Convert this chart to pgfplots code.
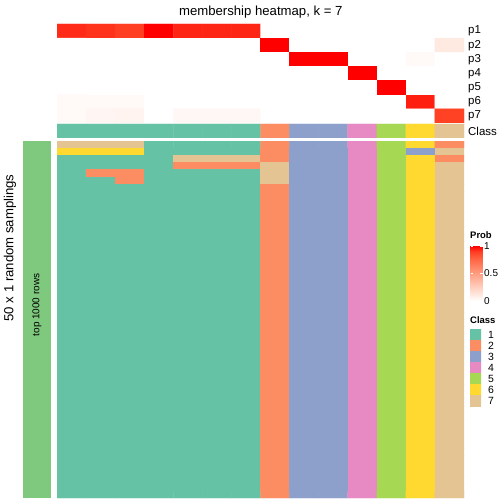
\documentclass[border=0pt]{standalone}
\usepackage{pgfplots}
\pgfplotsset{compat=1.18}
\usepackage{fontspec}
\setmainfont{Liberation Sans}
\definecolor{leftgreen}{HTML}{7FC97F}
\pgfplotsset{
  classmap/.style={colormap={classes}{rgb255=(102,194,165) rgb255=(252,141,98) rgb255=(141,160,203) rgb255=(231,138,195) rgb255=(166,216,84) rgb255=(255,217,47) rgb255=(229,196,148)}, colormap access=direct},
  probmap/.style={colormap={whitered}{rgb255(0cm)=(255,255,255) rgb255(1cm)=(255,236,229) rgb255(2.5cm)=(255,207,191) rgb255(5cm)=(255,158,129) rgb255(7.5cm)=(255,104,70) rgb255(9cm)=(255,62,34) rgb255(10cm)=(255,0,0)}},
  hm/.style={scale only axis, anchor=south west, enlargelimits=false,
    axis line style={draw=none}, tick style={draw=none}, major tick length=0pt,
    xtick=\empty, y dir=reverse, yticklabel pos=right,
    yticklabel style={font=\fontsize{11.5}{12}\selectfont, inner sep=0pt, xshift=4bp}},
}
\begin{document}
\begin{tikzpicture}
\path[use as bounding box] (0,0) rectangle (504bp,504bp);
% membership probabilities
\begin{axis}[hm, at={(57bp,381bp)}, width=407bp, height=99bp,
  xmin=0.5, xmax=14.5, ymin=0.5, ymax=7.5,
  ytick={1,...,7}, yticklabels={p1,p2,p3,p4,p5,p6,p7},
  probmap, point meta min=0, point meta max=1,
  colorbar,
  colorbar style={at={(parent axis.south east)}, anchor=north west,
    xshift=-2bp, yshift=-123bp, scale only axis, width=12bp, height=55bp,
    ytick={0,0.5,1}, yticklabels={0,0.5,1}, yticklabel pos=right,
    ytick pos=both, tick align=inside, major tick length=2.5bp,
    ytick style={draw=white, line width=0.8bp},
    axis line style={draw=none},
    yticklabel style={font=\fontsize{10}{10}\selectfont, inner sep=0pt, xshift=1.5bp}}]
\addplot[matrix plot*, mesh/cols=14, point meta=explicit] coordinates {
(1,1)[0.93] (2,1)[0.92] (3,1)[0.90] (4,1)[1] (5,1)[0.94] (6,1)[0.94] (7,1)[0.94] (8,1)[0] (9,1)[0] (10,1)[0] (11,1)[0] (12,1)[0] (13,1)[0] (14,1)[0]
(1,2)[0] (2,2)[0] (3,2)[0] (4,2)[0] (5,2)[0] (6,2)[0] (7,2)[0] (8,2)[1] (9,2)[0] (10,2)[0] (11,2)[0] (12,2)[0] (13,2)[0] (14,2)[0.11]
(1,3)[0] (2,3)[0] (3,3)[0] (4,3)[0] (5,3)[0] (6,3)[0] (7,3)[0] (8,3)[0] (9,3)[1] (10,3)[1] (11,3)[0] (12,3)[0] (13,3)[0.03] (14,3)[0]
(1,4)[0] (2,4)[0] (3,4)[0] (4,4)[0] (5,4)[0] (6,4)[0] (7,4)[0] (8,4)[0] (9,4)[0] (10,4)[0] (11,4)[1] (12,4)[0] (13,4)[0] (14,4)[0]
(1,5)[0] (2,5)[0] (3,5)[0] (4,5)[0] (5,5)[0] (6,5)[0] (7,5)[0] (8,5)[0] (9,5)[0] (10,5)[0] (11,5)[0] (12,5)[1] (13,5)[0] (14,5)[0]
(1,6)[0.03] (2,6)[0.03] (3,6)[0.03] (4,6)[0] (5,6)[0] (6,6)[0] (7,6)[0] (8,6)[0] (9,6)[0] (10,6)[0] (11,6)[0] (12,6)[0] (13,6)[0.95] (14,6)[0]
(1,7)[0.03] (2,7)[0.05] (3,7)[0.06] (4,7)[0] (5,7)[0.04] (6,7)[0.04] (7,7)[0.04] (8,7)[0] (9,7)[0] (10,7)[0] (11,7)[0] (12,7)[0] (13,7)[0] (14,7)[0.89]
};
\end{axis}
% class annotation row
\begin{axis}[hm, at={(57bp,366bp)}, width=407bp, height=14bp,
  xmin=0.5, xmax=14.5, ymin=0.5, ymax=2.5,
  ytick={1.5}, yticklabels={Class}, classmap]
\addplot[matrix plot*, mesh/cols=14, point meta=explicit] coordinates {
(1,1)[0] (2,1)[0] (3,1)[0] (4,1)[0] (5,1)[0] (6,1)[0] (7,1)[0] (8,1)[1] (9,1)[2] (10,1)[2] (11,1)[3] (12,1)[4] (13,1)[5] (14,1)[6]
(1,2)[0] (2,2)[0] (3,2)[0] (4,2)[0] (5,2)[0] (6,2)[0] (7,2)[0] (8,2)[1] (9,2)[2] (10,2)[2] (11,2)[3] (12,2)[4] (13,2)[5] (14,2)[6]
};
\end{axis}
% random samplings
\begin{axis}[hm, at={(57bp,6bp)}, width=407bp, height=357bp,
  xmin=0.5, xmax=14.5, ymin=0.5, ymax=50.5, ytick=\empty, classmap]
\addplot[matrix plot*, mesh/cols=14, point meta=explicit] coordinates {
(1,1)[6] (2,1)[6] (3,1)[6] (4,1)[0] (5,1)[0] (6,1)[0] (7,1)[0] (8,1)[1] (9,1)[2] (10,1)[2] (11,1)[3] (12,1)[4] (13,1)[5] (14,1)[1]
(1,2)[5] (2,2)[5] (3,2)[5] (4,2)[0] (5,2)[0] (6,2)[0] (7,2)[0] (8,2)[1] (9,2)[2] (10,2)[2] (11,2)[3] (12,2)[4] (13,2)[2] (14,2)[6]
(1,3)[0] (2,3)[0] (3,3)[0] (4,3)[0] (5,3)[6] (6,3)[6] (7,3)[6] (8,3)[1] (9,3)[2] (10,3)[2] (11,3)[3] (12,3)[4] (13,3)[5] (14,3)[1]
(1,4)[0] (2,4)[0] (3,4)[0] (4,4)[0] (5,4)[1] (6,4)[1] (7,4)[1] (8,4)[6] (9,4)[2] (10,4)[2] (11,4)[3] (12,4)[4] (13,4)[5] (14,4)[6]
(1,5)[0] (2,5)[1] (3,5)[1] (4,5)[0] (5,5)[0] (6,5)[0] (7,5)[0] (8,5)[6] (9,5)[2] (10,5)[2] (11,5)[3] (12,5)[4] (13,5)[5] (14,5)[6]
(1,6)[0] (2,6)[0] (3,6)[1] (4,6)[0] (5,6)[0] (6,6)[0] (7,6)[0] (8,6)[6] (9,6)[2] (10,6)[2] (11,6)[3] (12,6)[4] (13,6)[5] (14,6)[6]
(1,7)[0] (2,7)[0] (3,7)[0] (4,7)[0] (5,7)[0] (6,7)[0] (7,7)[0] (8,7)[1] (9,7)[2] (10,7)[2] (11,7)[3] (12,7)[4] (13,7)[5] (14,7)[6]
(1,8)[0] (2,8)[0] (3,8)[0] (4,8)[0] (5,8)[0] (6,8)[0] (7,8)[0] (8,8)[1] (9,8)[2] (10,8)[2] (11,8)[3] (12,8)[4] (13,8)[5] (14,8)[6]
(1,9)[0] (2,9)[0] (3,9)[0] (4,9)[0] (5,9)[0] (6,9)[0] (7,9)[0] (8,9)[1] (9,9)[2] (10,9)[2] (11,9)[3] (12,9)[4] (13,9)[5] (14,9)[6]
(1,10)[0] (2,10)[0] (3,10)[0] (4,10)[0] (5,10)[0] (6,10)[0] (7,10)[0] (8,10)[1] (9,10)[2] (10,10)[2] (11,10)[3] (12,10)[4] (13,10)[5] (14,10)[6]
(1,11)[0] (2,11)[0] (3,11)[0] (4,11)[0] (5,11)[0] (6,11)[0] (7,11)[0] (8,11)[1] (9,11)[2] (10,11)[2] (11,11)[3] (12,11)[4] (13,11)[5] (14,11)[6]
(1,12)[0] (2,12)[0] (3,12)[0] (4,12)[0] (5,12)[0] (6,12)[0] (7,12)[0] (8,12)[1] (9,12)[2] (10,12)[2] (11,12)[3] (12,12)[4] (13,12)[5] (14,12)[6]
(1,13)[0] (2,13)[0] (3,13)[0] (4,13)[0] (5,13)[0] (6,13)[0] (7,13)[0] (8,13)[1] (9,13)[2] (10,13)[2] (11,13)[3] (12,13)[4] (13,13)[5] (14,13)[6]
(1,14)[0] (2,14)[0] (3,14)[0] (4,14)[0] (5,14)[0] (6,14)[0] (7,14)[0] (8,14)[1] (9,14)[2] (10,14)[2] (11,14)[3] (12,14)[4] (13,14)[5] (14,14)[6]
(1,15)[0] (2,15)[0] (3,15)[0] (4,15)[0] (5,15)[0] (6,15)[0] (7,15)[0] (8,15)[1] (9,15)[2] (10,15)[2] (11,15)[3] (12,15)[4] (13,15)[5] (14,15)[6]
(1,16)[0] (2,16)[0] (3,16)[0] (4,16)[0] (5,16)[0] (6,16)[0] (7,16)[0] (8,16)[1] (9,16)[2] (10,16)[2] (11,16)[3] (12,16)[4] (13,16)[5] (14,16)[6]
(1,17)[0] (2,17)[0] (3,17)[0] (4,17)[0] (5,17)[0] (6,17)[0] (7,17)[0] (8,17)[1] (9,17)[2] (10,17)[2] (11,17)[3] (12,17)[4] (13,17)[5] (14,17)[6]
(1,18)[0] (2,18)[0] (3,18)[0] (4,18)[0] (5,18)[0] (6,18)[0] (7,18)[0] (8,18)[1] (9,18)[2] (10,18)[2] (11,18)[3] (12,18)[4] (13,18)[5] (14,18)[6]
(1,19)[0] (2,19)[0] (3,19)[0] (4,19)[0] (5,19)[0] (6,19)[0] (7,19)[0] (8,19)[1] (9,19)[2] (10,19)[2] (11,19)[3] (12,19)[4] (13,19)[5] (14,19)[6]
(1,20)[0] (2,20)[0] (3,20)[0] (4,20)[0] (5,20)[0] (6,20)[0] (7,20)[0] (8,20)[1] (9,20)[2] (10,20)[2] (11,20)[3] (12,20)[4] (13,20)[5] (14,20)[6]
(1,21)[0] (2,21)[0] (3,21)[0] (4,21)[0] (5,21)[0] (6,21)[0] (7,21)[0] (8,21)[1] (9,21)[2] (10,21)[2] (11,21)[3] (12,21)[4] (13,21)[5] (14,21)[6]
(1,22)[0] (2,22)[0] (3,22)[0] (4,22)[0] (5,22)[0] (6,22)[0] (7,22)[0] (8,22)[1] (9,22)[2] (10,22)[2] (11,22)[3] (12,22)[4] (13,22)[5] (14,22)[6]
(1,23)[0] (2,23)[0] (3,23)[0] (4,23)[0] (5,23)[0] (6,23)[0] (7,23)[0] (8,23)[1] (9,23)[2] (10,23)[2] (11,23)[3] (12,23)[4] (13,23)[5] (14,23)[6]
(1,24)[0] (2,24)[0] (3,24)[0] (4,24)[0] (5,24)[0] (6,24)[0] (7,24)[0] (8,24)[1] (9,24)[2] (10,24)[2] (11,24)[3] (12,24)[4] (13,24)[5] (14,24)[6]
(1,25)[0] (2,25)[0] (3,25)[0] (4,25)[0] (5,25)[0] (6,25)[0] (7,25)[0] (8,25)[1] (9,25)[2] (10,25)[2] (11,25)[3] (12,25)[4] (13,25)[5] (14,25)[6]
(1,26)[0] (2,26)[0] (3,26)[0] (4,26)[0] (5,26)[0] (6,26)[0] (7,26)[0] (8,26)[1] (9,26)[2] (10,26)[2] (11,26)[3] (12,26)[4] (13,26)[5] (14,26)[6]
(1,27)[0] (2,27)[0] (3,27)[0] (4,27)[0] (5,27)[0] (6,27)[0] (7,27)[0] (8,27)[1] (9,27)[2] (10,27)[2] (11,27)[3] (12,27)[4] (13,27)[5] (14,27)[6]
(1,28)[0] (2,28)[0] (3,28)[0] (4,28)[0] (5,28)[0] (6,28)[0] (7,28)[0] (8,28)[1] (9,28)[2] (10,28)[2] (11,28)[3] (12,28)[4] (13,28)[5] (14,28)[6]
(1,29)[0] (2,29)[0] (3,29)[0] (4,29)[0] (5,29)[0] (6,29)[0] (7,29)[0] (8,29)[1] (9,29)[2] (10,29)[2] (11,29)[3] (12,29)[4] (13,29)[5] (14,29)[6]
(1,30)[0] (2,30)[0] (3,30)[0] (4,30)[0] (5,30)[0] (6,30)[0] (7,30)[0] (8,30)[1] (9,30)[2] (10,30)[2] (11,30)[3] (12,30)[4] (13,30)[5] (14,30)[6]
(1,31)[0] (2,31)[0] (3,31)[0] (4,31)[0] (5,31)[0] (6,31)[0] (7,31)[0] (8,31)[1] (9,31)[2] (10,31)[2] (11,31)[3] (12,31)[4] (13,31)[5] (14,31)[6]
(1,32)[0] (2,32)[0] (3,32)[0] (4,32)[0] (5,32)[0] (6,32)[0] (7,32)[0] (8,32)[1] (9,32)[2] (10,32)[2] (11,32)[3] (12,32)[4] (13,32)[5] (14,32)[6]
(1,33)[0] (2,33)[0] (3,33)[0] (4,33)[0] (5,33)[0] (6,33)[0] (7,33)[0] (8,33)[1] (9,33)[2] (10,33)[2] (11,33)[3] (12,33)[4] (13,33)[5] (14,33)[6]
(1,34)[0] (2,34)[0] (3,34)[0] (4,34)[0] (5,34)[0] (6,34)[0] (7,34)[0] (8,34)[1] (9,34)[2] (10,34)[2] (11,34)[3] (12,34)[4] (13,34)[5] (14,34)[6]
(1,35)[0] (2,35)[0] (3,35)[0] (4,35)[0] (5,35)[0] (6,35)[0] (7,35)[0] (8,35)[1] (9,35)[2] (10,35)[2] (11,35)[3] (12,35)[4] (13,35)[5] (14,35)[6]
(1,36)[0] (2,36)[0] (3,36)[0] (4,36)[0] (5,36)[0] (6,36)[0] (7,36)[0] (8,36)[1] (9,36)[2] (10,36)[2] (11,36)[3] (12,36)[4] (13,36)[5] (14,36)[6]
(1,37)[0] (2,37)[0] (3,37)[0] (4,37)[0] (5,37)[0] (6,37)[0] (7,37)[0] (8,37)[1] (9,37)[2] (10,37)[2] (11,37)[3] (12,37)[4] (13,37)[5] (14,37)[6]
(1,38)[0] (2,38)[0] (3,38)[0] (4,38)[0] (5,38)[0] (6,38)[0] (7,38)[0] (8,38)[1] (9,38)[2] (10,38)[2] (11,38)[3] (12,38)[4] (13,38)[5] (14,38)[6]
(1,39)[0] (2,39)[0] (3,39)[0] (4,39)[0] (5,39)[0] (6,39)[0] (7,39)[0] (8,39)[1] (9,39)[2] (10,39)[2] (11,39)[3] (12,39)[4] (13,39)[5] (14,39)[6]
(1,40)[0] (2,40)[0] (3,40)[0] (4,40)[0] (5,40)[0] (6,40)[0] (7,40)[0] (8,40)[1] (9,40)[2] (10,40)[2] (11,40)[3] (12,40)[4] (13,40)[5] (14,40)[6]
(1,41)[0] (2,41)[0] (3,41)[0] (4,41)[0] (5,41)[0] (6,41)[0] (7,41)[0] (8,41)[1] (9,41)[2] (10,41)[2] (11,41)[3] (12,41)[4] (13,41)[5] (14,41)[6]
(1,42)[0] (2,42)[0] (3,42)[0] (4,42)[0] (5,42)[0] (6,42)[0] (7,42)[0] (8,42)[1] (9,42)[2] (10,42)[2] (11,42)[3] (12,42)[4] (13,42)[5] (14,42)[6]
(1,43)[0] (2,43)[0] (3,43)[0] (4,43)[0] (5,43)[0] (6,43)[0] (7,43)[0] (8,43)[1] (9,43)[2] (10,43)[2] (11,43)[3] (12,43)[4] (13,43)[5] (14,43)[6]
(1,44)[0] (2,44)[0] (3,44)[0] (4,44)[0] (5,44)[0] (6,44)[0] (7,44)[0] (8,44)[1] (9,44)[2] (10,44)[2] (11,44)[3] (12,44)[4] (13,44)[5] (14,44)[6]
(1,45)[0] (2,45)[0] (3,45)[0] (4,45)[0] (5,45)[0] (6,45)[0] (7,45)[0] (8,45)[1] (9,45)[2] (10,45)[2] (11,45)[3] (12,45)[4] (13,45)[5] (14,45)[6]
(1,46)[0] (2,46)[0] (3,46)[0] (4,46)[0] (5,46)[0] (6,46)[0] (7,46)[0] (8,46)[1] (9,46)[2] (10,46)[2] (11,46)[3] (12,46)[4] (13,46)[5] (14,46)[6]
(1,47)[0] (2,47)[0] (3,47)[0] (4,47)[0] (5,47)[0] (6,47)[0] (7,47)[0] (8,47)[1] (9,47)[2] (10,47)[2] (11,47)[3] (12,47)[4] (13,47)[5] (14,47)[6]
(1,48)[0] (2,48)[0] (3,48)[0] (4,48)[0] (5,48)[0] (6,48)[0] (7,48)[0] (8,48)[1] (9,48)[2] (10,48)[2] (11,48)[3] (12,48)[4] (13,48)[5] (14,48)[6]
(1,49)[0] (2,49)[0] (3,49)[0] (4,49)[0] (5,49)[0] (6,49)[0] (7,49)[0] (8,49)[1] (9,49)[2] (10,49)[2] (11,49)[3] (12,49)[4] (13,49)[5] (14,49)[6]
(1,50)[0] (2,50)[0] (3,50)[0] (4,50)[0] (5,50)[0] (6,50)[0] (7,50)[0] (8,50)[1] (9,50)[2] (10,50)[2] (11,50)[3] (12,50)[4] (13,50)[5] (14,50)[6]
};
\end{axis}
% left annotation bar
\begin{axis}[hm, at={(23bp,6bp)}, width=28bp, height=357bp,
  xmin=0, xmax=1, ymin=0, ymax=1, ytick=\empty, y dir=normal]
\addplot[fill=leftgreen, draw=none] coordinates {(0,1) (1,1)} \closedcycle;
\end{axis}
% class legend
\begin{axis}[hm, at={(470bp,98bp)}, width=11bp, height=77bp,
  xmin=0.5, xmax=2.5, ymin=0.5, ymax=7.5,
  ytick={1,...,7}, yticklabels={1,2,3,4,5,6,7}, classmap,
  yticklabel style={font=\fontsize{10.5}{11}\selectfont, inner sep=0pt, xshift=3bp}]
\addplot[matrix plot*, mesh/cols=2, point meta=explicit] coordinates {
(1,1)[0] (2,1)[0]
(1,2)[1] (2,2)[1]
(1,3)[2] (2,3)[2]
(1,4)[3] (2,4)[3]
(1,5)[4] (2,5)[4]
(1,6)[5] (2,6)[5]
(1,7)[6] (2,7)[6]
};
\end{axis}
\node[anchor=base, font=\fontsize{13.2}{14}\selectfont, inner sep=0pt] at (260.8bp,488bp) {membership heatmap, k = 7};
\node[rotate=90, font=\fontsize{13.2}{14}\selectfont, inner sep=0pt] at (10bp,256bp) {50 x 1 random samplings};
\node[rotate=90, font=\fontsize{10}{10}\selectfont, inner sep=0pt] at (37bp,199bp) {top 1000 rows};
\node[anchor=west, font=\bfseries\fontsize{9.5}{10}\selectfont, inner sep=0pt] at (470bp,269bp) {Prob};
\node[anchor=west, font=\bfseries\fontsize{9.5}{10}\selectfont, inner sep=0pt] at (470bp,184bp) {Class};
\end{tikzpicture}
\end{document}
